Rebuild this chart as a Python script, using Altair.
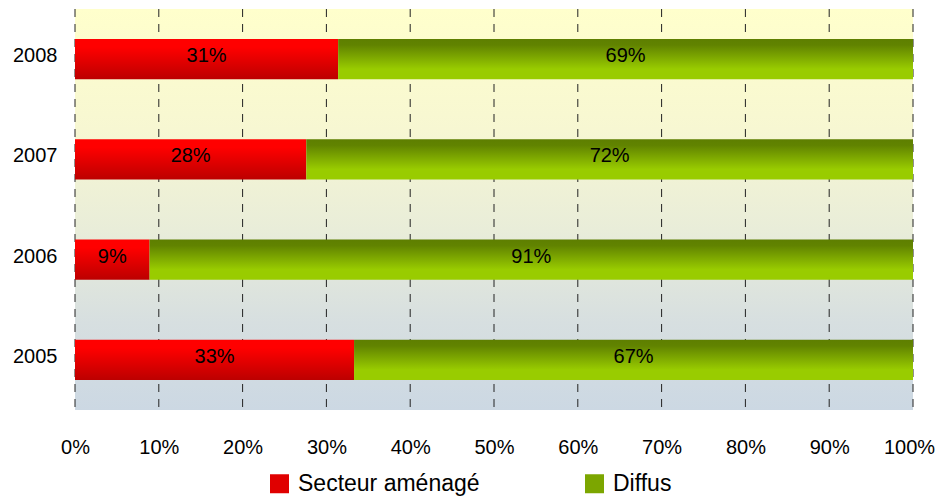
import altair as alt
import pandas as pd

years = ["2008", "2007", "2006", "2005"]
secteur = [31.4, 27.6, 8.9, 33.3]
diffus = [68.6, 72.4, 91.1, 66.7]
series_names = ["Secteur aménagé", "Diffus"]
tick_values = [0, 10, 20, 30, 40, 50, 60, 70, 80, 90, 100]

FONT = "Liberation Sans"
W, H = 838, 401

rows = []
for y, s, d in zip(years, secteur, diffus):
    rows.append({
        "year": y,
        "s0": 0.0,
        "s1": s / 100,
        "d0": s / 100,
        "d1": (s + d) / 100,
        "smid": (s / 2) / 100,
        "dmid": (s + d / 2) / 100,
        "slab": f"{round(s)}%",
        "dlab": f"{round(d)}%",
    })
df = pd.DataFrame(rows)
ticks_df = pd.DataFrame({"t": [v / 100 for v in tick_values]})
legend_df = pd.DataFrame({
    "series": series_names,
    "v": [secteur[0] / 100, diffus[0] / 100],
    "year": [years[0], years[0]],
})

xscale = alt.Scale(domain=[0, 1], nice=False, zero=True)
yscale = alt.Scale(domain=years, paddingInner=0.6, paddingOuter=0.3)

bg_grad = alt.LinearGradient(
    gradient="linear", x1=0, y1=0, x2=0, y2=1,
    stops=[
        alt.GradientStop(offset=0, color="#FFFFCC"),
        alt.GradientStop(offset=0.3, color="#F7F7D2"),
        alt.GradientStop(offset=0.55, color="#E9EDD9"),
        alt.GradientStop(offset=0.78, color="#D7DFE0"),
        alt.GradientStop(offset=1, color="#CCD8E3"),
    ],
)
red_grad = alt.LinearGradient(
    gradient="linear", x1=0, y1=0, x2=0, y2=1,
    stops=[
        alt.GradientStop(offset=0, color="#FF0000"),
        alt.GradientStop(offset=0.2, color="#FF0000"),
        alt.GradientStop(offset=1, color="#BC0000"),
    ],
)
green_grad = alt.LinearGradient(
    gradient="linear", x1=0, y1=0, x2=0, y2=1,
    stops=[
        alt.GradientStop(offset=0, color="#5E7F00"),
        alt.GradientStop(offset=0.15, color="#618300"),
        alt.GradientStop(offset=0.75, color="#99CC00"),
        alt.GradientStop(offset=1, color="#99CC00"),
    ],
)

bg = alt.Chart(pd.DataFrame({"a": [0]})).mark_rect(fill=bg_grad).encode(
    x=alt.value(0), x2=alt.value(W), y=alt.value(0), y2=alt.value(H)
)

grid = alt.Chart(ticks_df).mark_rule(
    strokeDash=[8, 7], color="#222222", strokeWidth=1
).encode(
    x=alt.X(
        "t:Q", scale=xscale, title=None,
        axis=alt.Axis(
            values=[v / 100 for v in tick_values], format=".0%",
            labelFontSize=20, labelFont=FONT, labelColor="#000000",
            labelPadding=27, labelFlush=False,
            labelOffset={"condition": {"test": "datum.value >= 1", "value": -4}, "value": 0},
            ticks=False, domain=False, grid=False,
        ),
    )
)

red = alt.Chart(df).mark_bar(fill=red_grad, cornerRadius=0).encode(
    x=alt.X("s0:Q", scale=xscale, title=None),
    x2="s1:Q",
    y=alt.Y(
        "year:N", scale=yscale, sort=years, title=None,
        axis=alt.Axis(
            labelFontSize=20, labelFont=FONT, labelColor="#000000",
            labelPadding=18, labelOffset=-3,
            ticks=False, domain=False, grid=False,
        ),
    ),
)
green = alt.Chart(df).mark_bar(fill=green_grad).encode(
    x=alt.X("d0:Q", scale=xscale, title=None), x2="d1:Q",
    y=alt.Y("year:N", scale=yscale, sort=years, title=None),
)
tred = alt.Chart(df).mark_text(fontSize=20, font=FONT, color="#000000", dy=-3).encode(
    x=alt.X("smid:Q", scale=xscale, title=None),
    y=alt.Y("year:N", scale=yscale, sort=years, title=None),
    text="slab:N",
)
tgreen = alt.Chart(df).mark_text(fontSize=20, font=FONT, color="#000000", dy=-3).encode(
    x=alt.X("dmid:Q", scale=xscale, title=None),
    y=alt.Y("year:N", scale=yscale, sort=years, title=None),
    text="dlab:N",
)
leg = alt.Chart(legend_df).mark_square(opacity=0).encode(
    x=alt.X("v:Q", scale=xscale, title=None),
    y=alt.Y("year:N", scale=yscale, sort=years, title=None),
    color=alt.Color(
        "series:N",
        scale=alt.Scale(domain=series_names, range=["#E00000", "#7CA600"]),
        legend=alt.Legend(
            title=None, orient="none", legendX=193, legendY=463,
            direction="horizontal", labelFontSize=23, labelFont=FONT,
            labelColor="#000000", labelOffset=7, columnPadding=103,
            labelLimit=400,
            symbolType="square", symbolSize=361, symbolOpacity=1,
            symbolStrokeWidth=0, padding=0,
        ),
    ),
)

chart = alt.layer(bg, grid, red, green, tred, tgreen, leg).properties(
    width=W, height=H,
    autosize=alt.AutoSizeParams(type="none"),
    padding={"left": 67, "top": 1, "right": 22, "bottom": 86},
).configure_view(stroke=None)

chart.save("out.html", embed_options={"renderer": "svg", "actions": False})
